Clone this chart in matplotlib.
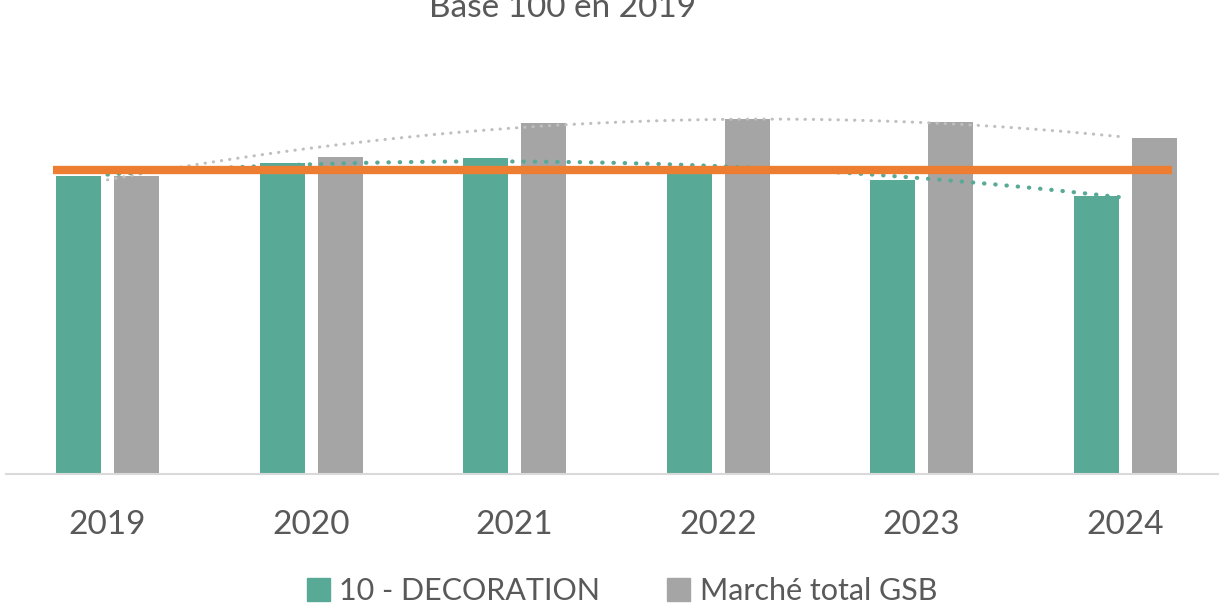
import matplotlib
matplotlib.use("Agg")
import matplotlib.pyplot as plt
import numpy as np
from matplotlib.patches import Patch

plt.rcParams['font.family'] = ['Lato', 'DejaVu Sans']

years = ["2019", "2020", "2021", "2022", "2023", "2024"]
decoration = [98.0, 102.3, 103.9, 100.3, 96.7, 91.4]
marche_total = [98.0, 104.3, 115.5, 116.8, 115.8, 110.5]
reference_level = 100.0
series_names = ["10 - DECORATION", "Marché total GSB"]
title_text = "Base 100 en 2019"

GREEN = "#58AA97"
GRAY = "#A5A5A5"
ORANGE = "#ED7D31"
TEXT = "#595959"

W, H = 1219, 606
fig = plt.figure(figsize=(W / 100, H / 100), dpi=100)
# axes: baseline at y=474 px, category spacing 203.5 px
cat_w = 203.5
left_px = 107.5 - cat_w / 2
bottom_px = H - 474
top_px = 100
ax = fig.add_axes([left_px / W, bottom_px / H, 6 * cat_w / W, (474 - top_px) / H])
ax.set_xlim(-0.5, 5.5)
scale = 304 / 100.0
ax.set_ylim(0, (474 - top_px) / scale)

x = np.arange(len(years))
bw = 45 / cat_w
off = 29 / cat_w
ax.bar(x - off, decoration, width=bw, color=GREEN, zorder=2)
ax.bar(x + off, marche_total, width=bw, color=GRAY, zorder=2)

# polynomial (order 2) trendlines, as in the spreadsheet
xs = np.linspace(0, 5, 300)
for vals, col, lw, dots in [(marche_total, "#BFBFBF", 2.2, (0, (0.1, 2.6))),
                            (decoration, GREEN, 3.0, (0, (0.1, 2.6)))]:
    c = np.polyfit(x, vals, 2)
    ax.plot(xs, np.polyval(c, xs), color=col, lw=lw, linestyle=dots,
            dash_capstyle='round', solid_capstyle='round', zorder=3)

ax.hlines(reference_level, -0.27, 5.23, color=ORANGE, lw=6, zorder=4)

for s in ["top", "right", "left"]:
    ax.spines[s].set_visible(False)
ax.spines["bottom"].set_color("#D9D9D9")
ax.spines["bottom"].set_linewidth(1.5)
ax.set_yticks([])
ax.set_xticks(x)
ax.set_xticklabels(years, fontsize=24, color=TEXT)
ax.tick_params(axis='x', length=0, pad=26)

fig.text(563 / W, 1 - 17 / H, title_text, fontsize=24, color=TEXT,
         ha='center', va='baseline')

handles = [Patch(color=GREEN), Patch(color=GRAY)]
fig.legend(handles, series_names, loc='center', bbox_to_anchor=(622 / W, 1 - 591 / H),
           ncol=2, frameon=False, fontsize=22, labelcolor=TEXT,
           handlelength=0.75, handleheight=0.75, handletextpad=0.3, columnspacing=2.2)

fig.savefig("out.png", dpi=100)
